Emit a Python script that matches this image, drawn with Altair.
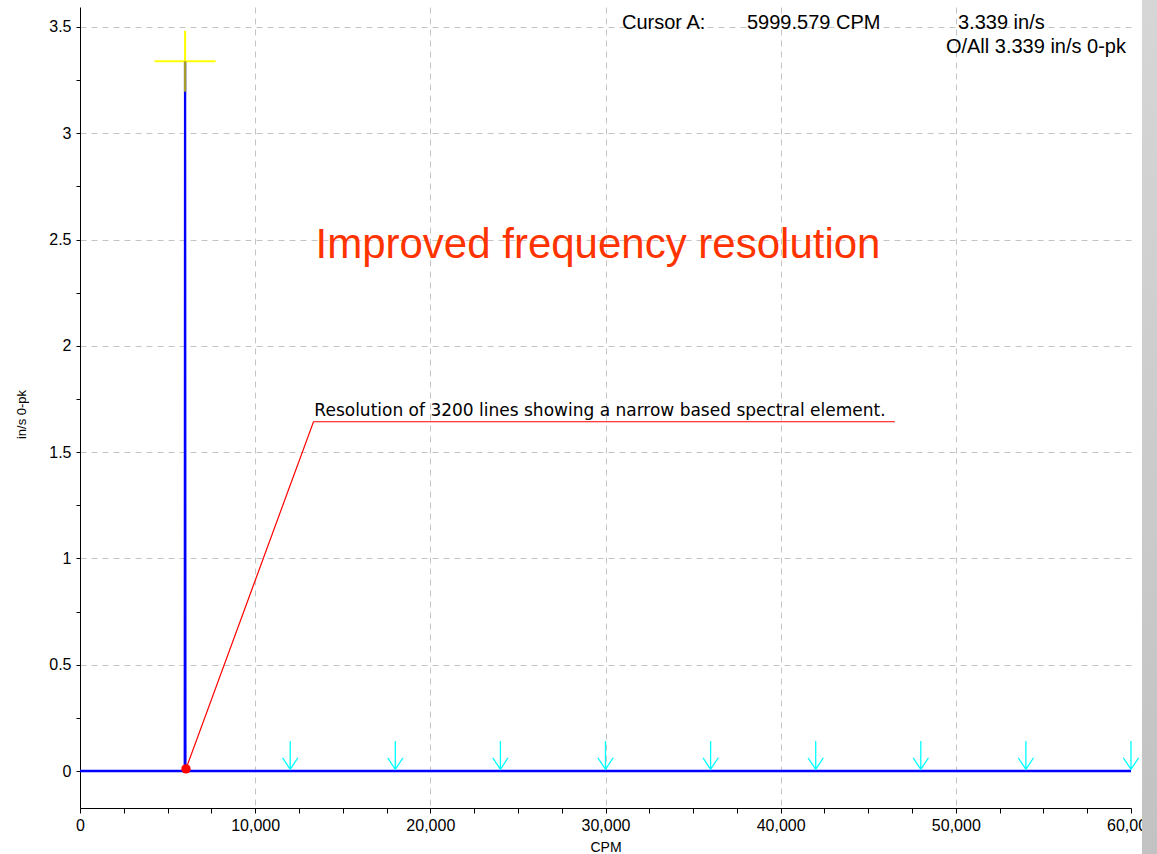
import altair as alt
import pandas as pd

# Spectrum: amplitude (in/s 0-pk) against frequency (CPM), 3200-line resolution
spec_cpm = [0, 5980.8, 5999.579, 6018.3, 60000]
spec_amp = [0.0, 0.0, 3.339, 0.0, 0.0]

# Cursor readout
cursor_cpm = 5999.579
cursor_amp = 3.339
overall_amp = 3.339

# Harmonic markers of the running speed
harmonic_cpm = [12000, 18000, 24000, 30000, 36000, 42000, 48000, 54000, 60000]

# Annotation leader: from the marked bin up to the label shelf
leader_cpm = [6050, 13330, 46520]
leader_amp = [0.01, 1.643, 1.643]
marker_cpm = [6050]
marker_amp = [0.01]

note_text = "Resolution of 3200 lines showing a narrow based spectral element."
note_cpm = 13380
note_amp = 1.643

headline = "Improved frequency resolution"
headline_cpm = 29570
headline_amp = 2.415

# Major + minor tick positions
x_ticks = [i * 2500 for i in range(25)]
y_ticks = [i * 0.125 for i in range(29)]

X_DOMAIN = [0, 60000]
Y_DOMAIN = [-0.174, 3.594]
FONT = "Liberation Sans"

spec_df = pd.DataFrame({"cpm": spec_cpm, "amp": spec_amp})
cursor_df = pd.DataFrame({"cpm": [cursor_cpm], "amp": [cursor_amp]})
harm_df = pd.DataFrame({"cpm": harmonic_cpm, "amp": [0.0] * len(harmonic_cpm)})
leader_df = pd.DataFrame({"cpm": leader_cpm, "amp": leader_amp, "k": list(range(len(leader_cpm)))})
marker_df = pd.DataFrame({"cpm": marker_cpm, "amp": marker_amp})
note_df = pd.DataFrame({"cpm": [note_cpm], "amp": [note_amp], "t": [note_text]})
head_df = pd.DataFrame({"cpm": [headline_cpm], "amp": [headline_amp], "t": [headline]})
readout_df = pd.DataFrame({
    "t": ["Cursor A:", f"{cursor_cpm:.3f} CPM", f"{cursor_amp:.3f} in/s"],
    "px": [542, 667, 878],
})
overall_df = pd.DataFrame({"t": [f"O/All {overall_amp:.3f} in/s 0-pk"]})
strip_df = pd.DataFrame({"k": [0]})

grid_dash = [6, 5]
grid_color = "#c4c4c4"

x_scale = alt.Scale(domain=X_DOMAIN, nice=False, zero=False)
y_scale = alt.Scale(domain=Y_DOMAIN, nice=False, zero=False)

x_axis = alt.Axis(
    values=x_ticks,
    labelExpr="datum.value % 10000 === 0 ? format(datum.value, ',') : ''",
    grid=True,
    gridColor=grid_color,
    gridDash=grid_dash,
    gridOpacity={"condition": {"test": "datum.value % 10000 === 0 && datum.value > 0 && datum.value < 60000", "value": 1}, "value": 0},
    domainColor="black",
    tickColor="black",
    tickSize=5,
    labelFont=FONT,
    labelFontSize=16,
    labelColor="black",
    labelPadding=4,
    labelFlush=False,
    labelOverlap=False,
    title="CPM",
    titleFont=FONT,
    titleFontSize=14,
    titleFontWeight="normal",
    titleColor="black",
    titleBaseline="alphabetic",
    titleY=43,
)

y_axis = alt.Axis(
    values=y_ticks,
    labelExpr="datum.value % 0.5 === 0 ? format(datum.value, '~g') : ''",
    grid=True,
    gridColor=grid_color,
    gridDash=grid_dash,
    gridOpacity={"condition": {"test": "datum.value % 0.5 === 0 && datum.value > 0", "value": 1}, "value": 0},
    domainColor="black",
    tickColor="black",
    tickSize=4,
    labelFont=FONT,
    labelFontSize=16,
    labelColor="black",
    labelPadding=5,
    labelOverlap=False,
    labelFlush=False,
    title="in/s 0-pk",
    titleFont=FONT,
    titleFontSize=13,
    titleFontWeight="normal",
    titleColor="black",
    titleAngle=270,
    titleAlign="center",
    titleBaseline="middle",
    titleX=-59,
    titleY=407,
)

X = alt.X("cpm:Q", scale=x_scale, axis=x_axis)
Y = alt.Y("amp:Q", scale=y_scale, axis=y_axis)
Xp = alt.X("cpm:Q", scale=x_scale)
Yp = alt.Y("amp:Q", scale=y_scale)

spectrum = alt.Chart(spec_df).mark_line(color="#0000ff", strokeWidth=2.3).encode(x=X, y=Y)

arrow_path = "M0,-1L0,1M-0.54,0.18L0,1L0.54,0.18"
harmonics = alt.Chart(harm_df).mark_point(
    shape=arrow_path, size=806, filled=False, color="#00ffff",
    strokeWidth=1.3, opacity=1, yOffset=-15.8,
).encode(x=Xp, y=Yp)

# Cursor crosshair: upper arms in yellow, lower arm where it sits over the trace
cursor_top = alt.Chart(cursor_df).mark_point(
    shape="M-1,0L1,0M0,-1L0,0", size=3721, filled=False, color="#ffff00",
    strokeWidth=2, opacity=1,
).encode(x=Xp, y=Yp)
cursor_low = alt.Chart(cursor_df).mark_point(
    shape="M0,0L0,1", size=3721, filled=False, color="#a89c2c",
    strokeWidth=2.4, opacity=1,
).encode(x=Xp, y=Yp)

leader = alt.Chart(leader_df).mark_line(color="#ff0000", strokeWidth=1.2).encode(
    x=Xp, y=Yp, order="k:O"
)

marker = alt.Chart(marker_df).mark_circle(size=88, color="#ff0000", opacity=1).encode(x=Xp, y=Yp)

note = alt.Chart(note_df).mark_text(
    font="DejaVu Sans", fontSize=17, color="black", align="left",
    baseline="alphabetic", dy=-6,
).encode(x=Xp, y=Yp, text="t:N")

head = alt.Chart(head_df).mark_text(
    font=FONT, fontSize=42, color="#ff3300", align="center", baseline="alphabetic",
).encode(x=Xp, y=Yp, text="t:N")

readout = alt.Chart(readout_df).mark_text(
    font=FONT, fontSize=20, color="black", align="left", baseline="alphabetic",
).encode(x=alt.X("px:Q", scale=None), y=alt.value(22), text="t:N")

overall = alt.Chart(overall_df).mark_text(
    font=FONT, fontSize=20, color="black", align="right", baseline="alphabetic",
).encode(x=alt.value(1046), y=alt.value(45.5), text="t:N")

# window edge strip on the right
strip = alt.Chart(strip_df).mark_rect(
    fill=alt.Gradient(
        gradient="linear",
        stops=[alt.GradientStop(color="#d6d6d6", offset=0), alt.GradientStop(color="#c2c2c2", offset=1)],
        x1=0, x2=0, y1=0, y2=1,
    ),
    stroke=None,
).encode(x=alt.value(1062), x2=alt.value(1080), y=alt.value(-10), y2=alt.value(850))

chart = alt.layer(
    spectrum, cursor_top, cursor_low, harmonics, leader, marker, note, head, readout, overall, strip
).properties(
    width=1051,
    height=801,
    padding={"left": 80, "top": 7, "right": 26, "bottom": 46},
    autosize=alt.AutoSizeParams(type="none"),
    background="white",
).configure_view(stroke=None)

chart.save("out.html", embed_options={"renderer": "svg", "actions": False})
